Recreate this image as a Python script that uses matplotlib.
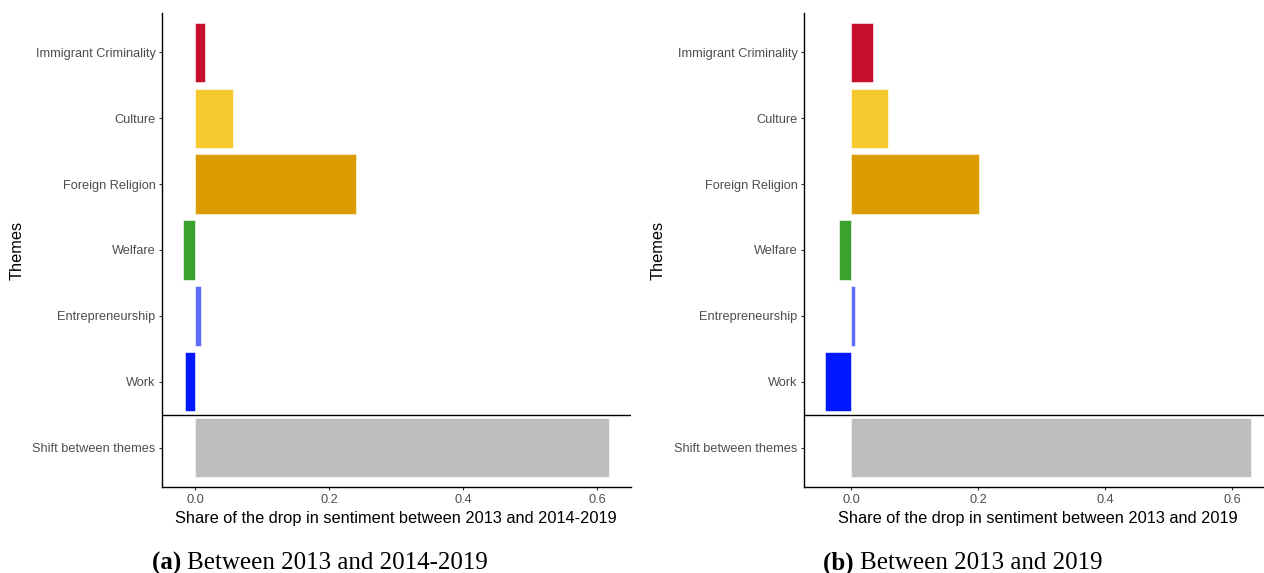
import matplotlib
matplotlib.use("Agg")
import matplotlib.pyplot as plt
import numpy as np

# Themes, listed top to bottom
themes = ["Immigrant Criminality", "Culture", "Foreign Religion", "Welfare",
          "Entrepreneurship", "Work", "Shift between themes"]
theme_colors = ["#C8102E", "#F6C92F", "#DC9C00", "#3BA22D",
                "#5B6CFF", "#0018FF", "#BEBEBE"]

# Share of the sentiment drop attributed to each theme
share_2014_2019 = [0.014, 0.056, 0.240, -0.018, 0.009, -0.015, 0.618]
share_2019 = [0.0345, 0.0577, 0.2014, -0.0195, 0.0056, -0.0414, 0.630]

xticks = [0.0, 0.2, 0.4, 0.6]
xlabel_a = "Share of the drop in sentiment between 2013 and 2014-2019"
xlabel_b = "Share of the drop in sentiment between 2013 and 2019"
caption_a = ("(a)", "Between 2013 and 2014-2019")
caption_b = ("(b)", "Between 2013 and 2019")

W, H = 1264, 573
fig = plt.figure(figsize=(W / 100, H / 100), dpi=100)
plt.rcParams["font.family"] = ["Liberation Sans", "DejaVu Sans"]

ax_w_px = 468.6
bottom_px, top_px = 487.3, 12.7


def panel(left_px, values, xlabel):
    vals = np.asarray(values)
    lo, hi = min(vals.min(), 0.0), max(vals.max(), 0.0)
    pad = 0.05 * (hi - lo)
    xmin, xmax = lo - pad, hi + pad
    ax = fig.add_axes([left_px / W, (H - bottom_px) / H,
                       ax_w_px / W, (bottom_px - top_px) / H])
    n = len(themes)
    ypos = np.arange(n, 0, -1)
    ax.barh(ypos, vals, height=0.9, color=theme_colors,
            edgecolor="white", linewidth=0.4)
    ax.axhline(1.5, color="black", linewidth=1.0)
    ax.set_xlim(xmin, xmax)
    ax.set_ylim(0.4, n + 0.6)
    ax.set_yticks(ypos)
    ax.set_yticklabels(themes)
    ax.set_xticks(xticks)
    ax.set_xticklabels([f"{t:.1f}" for t in xticks])
    for s in ("top", "right"):
        ax.spines[s].set_visible(False)
    for s in ("left", "bottom"):
        ax.spines[s].set_linewidth(1.0)
        ax.spines[s].set_color("black")
    ax.tick_params(axis="both", length=2.5, width=0.8, color="#333333",
                   labelcolor="#4D4D4D", labelsize=9.2, pad=2)
    ax.set_xlabel(xlabel, fontsize=11.8, color="black", labelpad=4)
    ax.set_ylabel("Themes", fontsize=11.8, color="black", labelpad=6)
    return ax


panel(162.0, share_2014_2019, xlabel_a)
panel(803.7, share_2019, xlabel_b)


def caption(cx_px, parts):
    bold, rest = parts
    y = 1 - 563 / H
    t1 = fig.text(0, y, bold + " ", fontsize=18, fontweight="bold",
                  family="Liberation Serif", va="center", ha="left")
    t2 = fig.text(0, y, rest, fontsize=18, family="Liberation Serif",
                  va="center", ha="left")
    fig.canvas.draw()
    r = fig.canvas.get_renderer()
    w1 = t1.get_window_extent(r).width
    w2 = t2.get_window_extent(r).width
    x0 = cx_px - (w1 + w2) / 2
    t1.set_x(x0 / W)
    t2.set_x((x0 + w1) / W)


caption(320, caption_a)
caption(963, caption_b)

fig.savefig("out.png", dpi=100)
